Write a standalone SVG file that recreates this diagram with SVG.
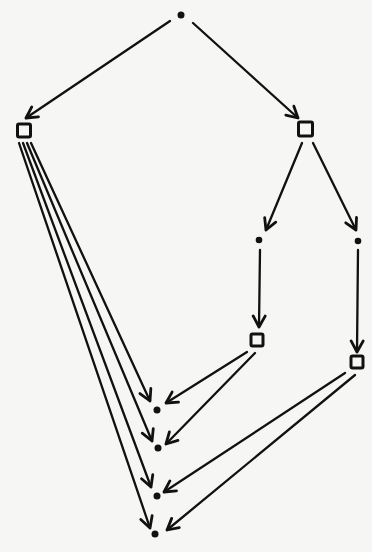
<svg xmlns="http://www.w3.org/2000/svg" width="372" height="552" viewBox="0 0 372 552">
<defs>
<style>
.edge{stroke:#111;stroke-width:2.3;fill:none;stroke-linecap:round;marker-end:url(#ah)}
.dot{fill:#111}
.sq{fill:none;stroke:#111;stroke-width:3;stroke-linejoin:round}
</style>
<marker id="ah" markerUnits="userSpaceOnUse" markerWidth="16" markerHeight="16" refX="13" refY="8" orient="auto" viewBox="0 0 16 16">
<path d="M2,2 L13,8 L2,14" fill="none" stroke="#111" stroke-width="2.8" stroke-linecap="round" stroke-linejoin="round"/>
</marker>
</defs>
<rect width="372" height="552" fill="#f6f6f4"/>
<g id="edges">
<line class="edge" x1="170" y1="21" x2="26" y2="118"/>
<line class="edge" x1="193" y1="23" x2="298" y2="118"/>
<line class="edge" x1="302" y1="143" x2="266" y2="230"/>
<line class="edge" x1="313" y1="143" x2="356" y2="230"/>
<line class="edge" x1="260" y1="250" x2="259" y2="327"/>
<line class="edge" x1="358" y1="250" x2="357" y2="352"/>
<line class="edge" x1="31" y1="143" x2="150" y2="401"/>
<line class="edge" x1="27" y1="143" x2="152" y2="441"/>
<line class="edge" x1="23" y1="143" x2="151" y2="487"/>
<line class="edge" x1="19" y1="143" x2="150" y2="528"/>
<line class="edge" x1="247" y1="352" x2="166" y2="403"/>
<line class="edge" x1="255" y1="353" x2="166" y2="444"/>
<line class="edge" x1="345" y1="373" x2="164" y2="492"/>
<line class="edge" x1="355" y1="375" x2="167" y2="530"/>
</g>
<g id="n0"><circle class="dot" cx="181" cy="15" r="3.5"/></g>
<g id="n1"><rect class="sq" x="17.5" y="124" width="13" height="13" rx="1.5"/></g>
<g id="n2"><rect class="sq" x="298.5" y="122" width="14" height="14" rx="1.5"/></g>
<g id="n3"><circle class="dot" cx="259" cy="240" r="3.3"/></g>
<g id="n4"><circle class="dot" cx="358" cy="241" r="3.3"/></g>
<g id="n5"><rect class="sq" x="251" y="334" width="12" height="12" rx="1.5"/></g>
<g id="n6"><rect class="sq" x="351" y="356" width="12" height="12" rx="1.5"/></g>
<g id="n7"><circle class="dot" cx="157" cy="410" r="3.5"/></g>
<g id="n8"><circle class="dot" cx="158" cy="448" r="3.5"/></g>
<g id="n9"><circle class="dot" cx="157" cy="496" r="3.5"/></g>
<g id="n10"><circle class="dot" cx="155" cy="534" r="3.5"/></g>
</svg>
